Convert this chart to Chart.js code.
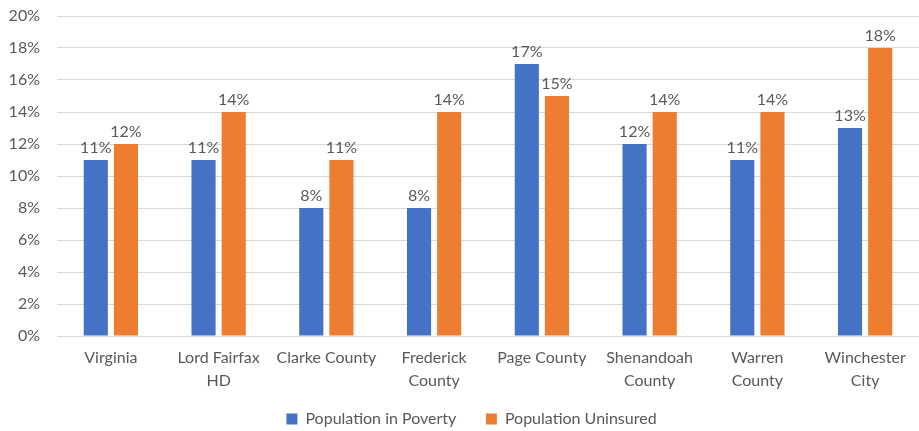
<!DOCTYPE html>
<html>
<head>
<meta charset="utf-8">
<script src="https://cdn.jsdelivr.net/npm/chart.js@4/dist/chart.umd.min.js"></script>
<style>
  html, body { margin: 0; padding: 0; background: #fff; }
  #wrap { width: 919px; height: 431px; }
</style>
</head>
<body>
<div id="wrap"><canvas id="chart"></canvas></div>
<script>
const categories = [
  "Virginia",
  ["Lord Fairfax", "HD"],
  "Clarke County",
  ["Frederick", "County"],
  "Page County",
  ["Shenandoah", "County"],
  ["Warren", "County"],
  ["Winchester", "City"]
];
const poverty = [11, 11, 8, 8, 17, 12, 11, 13];
const uninsured = [12, 14, 11, 14, 15, 14, 14, 18];

const FONT = "Lato, 'Open Sans', sans-serif";
const GREY = "#595959";

// draws the value above each bar
const barLabels = {
  id: "barLabels",
  afterDatasetsDraw(chart) {
    const ctx = chart.ctx;
    ctx.save();
    ctx.font = "16px " + FONT;
    ctx.fillStyle = GREY;
    ctx.textAlign = "center";
    ctx.textBaseline = "bottom";
    chart.data.datasets.forEach((ds, i) => {
      chart.getDatasetMeta(i).data.forEach((bar, j) => {
        ctx.fillText(ds.data[j] + "%", bar.x, bar.y - 4);
      });
    });
    ctx.restore();
  }
};

// legend sits a bit right of the canvas centre in the original
const legendShift = {
  id: "legendShift",
  afterLayout(chart) {
    chart.legend.left += 12;
    chart.legend.right += 12;
  }
};

new Chart(document.getElementById("chart"), {
  type: "bar",
  data: {
    labels: categories,
    datasets: [
      { label: "Population in Poverty", data: poverty, backgroundColor: "#4472C4" },
      { label: "Population Uninsured", data: uninsured, backgroundColor: "#ED7D31" }
    ]
  },
  options: {
    responsive: true,
    maintainAspectRatio: false,
    animation: false,
    devicePixelRatio: 1,
    layout: { padding: { top: 16, right: 0, left: 0, bottom: -6 } },
    datasets: { bar: { categoryPercentage: 0.56, barPercentage: 0.8 } },
    plugins: {
      tooltip: { enabled: false },
      legend: {
        position: "bottom",
        labels: {
          color: GREY,
          font: { family: FONT, size: 16 },
          boxWidth: 11,
          boxHeight: 11,
          padding: 5,
          generateLabels(chart) {
            const items = Chart.defaults.plugins.legend.labels.generateLabels(chart);
            items[0].text += "      ";
            return items;
          }
        }
      }
    },
    scales: {
      x: {
        grid: { display: false },
        border: { color: "#d9d9d9" },
        ticks: { color: GREY, font: { family: FONT, size: 16, lineHeight: 1.45 }, padding: 2, maxRotation: 0, autoSkip: false },
        afterFit(scale) { scale.height = 70; }
      },
      y: {
        min: 0,
        max: 20,
        ticks: { stepSize: 2, color: GREY, font: { family: FONT, size: 16 }, padding: 17, callback: v => v + "%" },
        grid: { color: "#d9d9d9", drawTicks: false },
        border: { display: false },
        afterFit(scale) { scale.width = 57; scale.paddingTop = 0; }
      }
    }
  },
  plugins: [barLabels, legendShift]
});
</script>
</body>
</html>
